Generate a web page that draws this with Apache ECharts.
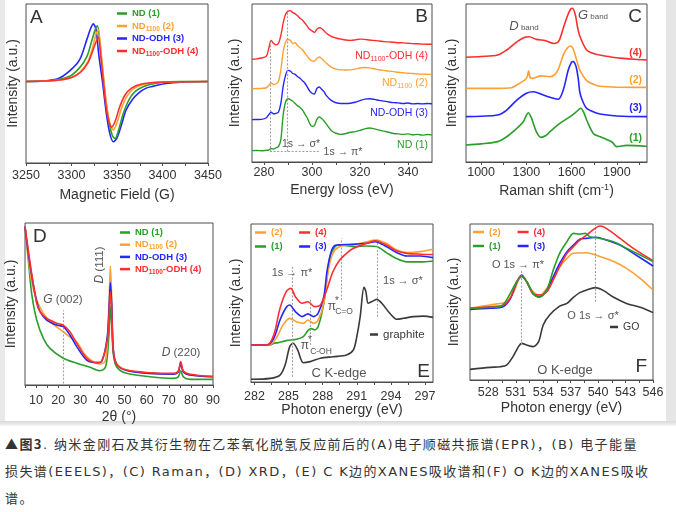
<!DOCTYPE html>
<html><head><meta charset="utf-8">
<script src="https://cdn.jsdelivr.net/npm/echarts@6/dist/echarts.min.js"></script>
<style>
html,body{margin:0;padding:0;background:#fff;}
#c{width:676px;height:426px;}
#cap{position:absolute;left:5px;top:430px;font-family:"DejaVu Sans","Noto Sans CJK SC",sans-serif;font-size:13px;letter-spacing:1.4px;line-height:27px;color:#333;white-space:nowrap;}
#cap b{font-family:"Noto Sans CJK SC",sans-serif;}
</style>
</head><body>
<div id="c"></div>
<div id="cap"><b>▲图3</b>. 纳米金刚石及其衍生物在乙苯氧化脱氢反应前后的(A)电子顺磁共振谱(EPR)，(B) 电子能量<br>损失谱(EEELS)，(C) Raman，(D) XRD，(E) C K边的XANES吸收谱和(F) O K边的XANES吸收<br>谱。</div>
<script>
// ---------- Panel A : EPR ----------
const A_LABELS = [3250, 3300, 3350, 3400, 3450];
const A_TICKS = [3250, 3275, 3300, 3325, 3350, 3375, 3400, 3425, 3450];
const A_ND1 = [[3250,0],[3280,0.02],[3298,0.08],[3309,0.21],[3317,0.38],[3322,0.6],[3326,0.78],[3328.5,0.84],[3331,0.6],[3334,0.2],[3337,-0.2],[3341,-0.6],[3345,-0.82],[3348,-0.86],[3352,-0.72],[3357,-0.48],[3363,-0.28],[3370,-0.15],[3380,-0.07],[3395,-0.02],[3420,0],[3450,0]];
const A_ND1100 = [[3250,0],[3285,0.02],[3300,0.06],[3310,0.15],[3318,0.3],[3323,0.5],[3327,0.72],[3329.5,0.78],[3332,0.5],[3335,0.1],[3338,-0.3],[3342,-0.62],[3346,-0.73],[3350,-0.62],[3355,-0.4],[3361,-0.22],[3368,-0.11],[3378,-0.05],[3395,-0.01],[3450,0]];
const A_NDODH = [[3250,0],[3270,0.01],[3285,0.04],[3298,0.16],[3309,0.33],[3317,0.64],[3321,0.8],[3324,0.87],[3327,0.78],[3330,0.4],[3334,0],[3338,-0.45],[3342,-0.78],[3346,-0.91],[3350,-0.85],[3355,-0.65],[3360,-0.43],[3367,-0.27],[3374,-0.17],[3382,-0.1],[3390,-0.07],[3404,-0.03],[3420,-0.01],[3450,0]];
const A_ND1100ODH = [[3250,0],[3285,0.02],[3300,0.06],[3310,0.14],[3318,0.28],[3323,0.45],[3327,0.6],[3329.5,0.67],[3332,0.4],[3335,0],[3338,-0.38],[3341,-0.6],[3344,-0.69],[3348,-0.6],[3353,-0.38],[3359,-0.2],[3366,-0.1],[3376,-0.04],[3395,-0.01],[3450,0]];

// ---------- Panel B : EELS ----------
const B_LABELS = [280, 300, 320, 340];
const B_TICKS = [280, 290, 300, 310, 320, 330, 340];
const B_X = [275,277,279,281,282,283,284,285,286,287,288,289,290,291,292,293,294,295,296,297,298,299,300,301,302,303,304,305,306,308,310,312,314,316,318,320,322,324,326,328,330,332,334,336,338,340,342,344,346,348,350];
const B_ND1 = [7.2,7.3,7.1,7.4,7.6,8.5,8.2,9,9.8,14,30,38,40,39.5,38.5,37,35.5,34.5,33,30.5,28,24.5,22.5,23,27,28.5,27.5,26,24,20,18.2,17.5,18,18.8,19.2,20,21,21.5,21,20.2,19.5,18.8,18,17.8,17.5,17.8,17.2,17.5,17,17.4,17.2];
const B_NDODH = [26.8,26.9,27,28,30,31.5,30.5,30.8,31.5,37,48,55,58,57.5,56,55.5,54,53,51.5,50,47.5,45,43.5,43,46.5,47.5,46,44.5,42,39,37.5,37,37,37.2,37.8,38.8,39.8,40,39.6,39,38.5,38,37.6,37.4,37,37.3,36.8,37,36.8,37,36.9];
const B_ND1100 = [46.3,46.5,46.6,47,48.5,50,49,49.5,51,58,70,76,77.5,77,75,75.5,73.5,72.5,71,69,67,65,64,63.8,65.5,66.5,65.5,64,62.5,60,58.8,58.3,58.2,58.3,58.8,59.5,59.8,59.6,59,58.4,58,57.5,57.2,56.8,56.5,56.2,56,55.8,55.6,55.5,55.4];
const B_ND1100ODH = [65,65.3,65.8,67,72,77,75,74.2,75,80,88,93.5,95.5,95.8,94.5,93.8,92.5,91,89.8,88,86,84,83,82,84,85,84.5,83,81.5,79.5,78.5,77.8,77.2,77,77.3,77.8,77.6,77.2,76.9,76.6,76.2,76,75.8,75.5,75.4,75.2,74.9,74.8,74.6,74.5,74.5];
const B_GUIDES = [[[282.5,6.6],[282.5,76]],[[289.5,6.6],[289.5,95]],[[282.5,6.6],[303.5,6.6]]];

// ---------- Panel C : Raman ----------
const C_LABELS = [1000, 1300, 1600, 1900];
const C_TICKS = [1000, 1150, 1300, 1450, 1600, 1750, 1900, 2050];
const C_ND1 = [[900,10.8],[1000,11.5],[1110,12.9],[1170,16],[1237,21.3],[1280,25.5],[1296,28.7],[1313,31.2],[1335,27.6],[1366,19.2],[1397,15.6],[1430,16.8],[1457,19.2],[1522,24.5],[1590,28.7],[1633,31.9],[1660,34],[1680,31.5],[1700,26.6],[1744,18.1],[1790,16],[1832,14.3],[1870,12.5],[1899,9.7],[1965,10.5],[2100,10]];
const C_ND1100 = [[900,46.6],[1100,46.6],[1200,47],[1236,48.7],[1291,51.9],[1306,54],[1315,57.8],[1325,53.5],[1345,53],[1366,53.6],[1391,54.5],[1457,54],[1490,55.5],[1512,58.8],[1548,68.4],[1575,72.5],[1594,73.4],[1611,71.5],[1635,64],[1656,57.8],[1700,51.5],[1750,49],[1788,47.9],[1900,47.3],[2100,47.2]];
const C_NDODH = [[900,28.7],[1000,29],[1110,29.7],[1170,32.9],[1237,39.2],[1300,43.5],[1346,44.5],[1413,42.4],[1479,40.3],[1512,39.7],[1545,45.6],[1578,58.2],[1600,63.2],[1610,63.5],[1630,60.3],[1645,52],[1656,43.5],[1680,37],[1700,34],[1750,31.5],[1788,30.4],[1900,29.1],[2100,28.7]];
const C_ND1100ODH = [[900,66.3],[1000,66.8],[1110,67.7],[1170,70.9],[1237,76],[1290,79],[1318,79.3],[1366,77.6],[1428,76.8],[1483,75],[1515,76.5],[1548,85.7],[1575,93],[1595,97],[1606,97.3],[1625,93.1],[1640,85],[1656,79.3],[1700,70.9],[1750,68.5],[1788,67.7],[1860,66.5],[1942,65.6],[2020,65],[2100,64.6]];

// ---------- Panel D : XRD ----------
const D_LABELS = [10, 20, 30, 40, 50, 60, 70, 80, 90];
const D_TICKS = [5,10,15,20,25,30,35,40,45,50,55,60,65,70,75,80,85,90];
const D_ND1 = [[5,97.7],[6.5,77.2],[8,56.6],[10.3,40.1],[13.3,28.8],[16.3,22.6],[22.3,16.5],[28.4,13.4],[34.4,10.9],[38.9,8.8],[41.2,10.5],[42.2,17.5],[43.1,34],[43.6,48.4],[44.2,38.1],[44.9,19.5],[46.4,11.3],[50.9,7.2],[61.5,5.1],[72,4.1],[74.3,5],[75.4,8.8],[76.6,5],[79.6,3.5],[90,3.5]];
const D_ND1100 = [[5,97.7],[6.5,79.2],[8,63.8],[10.3,52.5],[13.3,44.2],[16.3,39.1],[22.3,32.9],[25.3,29.5],[28.4,26.7],[31.4,20],[34.4,15.8],[38.9,12.9],[41.2,14.5],[42.2,25.7],[43.1,54.5],[43.6,73.5],[44.2,54],[44.9,23.6],[46.4,13.3],[50.9,9.2],[61.5,7.2],[72,6.7],[74.3,8.2],[75.4,13.8],[76.6,8.2],[79.6,6.2],[90,5.1]];
const D_NDODH = [[5,97.7],[6.5,81.3],[8,67.9],[10.3,51.4],[11.8,45.3],[14.8,40.1],[19.3,37],[22.3,36],[25.3,30.9],[28.4,23.7],[32.9,15.4],[37.4,13.8],[39.7,14.5],[42.2,29.8],[43.1,50.4],[43.6,63.2],[44.2,50],[44.9,21.6],[46.4,12.9],[50.9,9],[61.5,7.2],[72,6.7],[74.3,8],[75.4,13.5],[76.6,8],[79.6,6.2],[90,5.1]];
const D_ND1100ODH = [[5,97.7],[6.5,83.3],[8,68.9],[10.3,50.4],[11.8,45.3],[14.8,41.2],[19.3,38.1],[22.3,37],[25.3,32.9],[28.4,25.7],[32.9,16.5],[37.4,13.8],[39.7,14.8],[42.2,27.8],[43.1,46.3],[43.6,57.6],[44.2,46],[44.9,21.6],[46.4,12.9],[50.9,9.2],[61.5,7.6],[72,7.2],[74.3,8.6],[75.4,14.4],[76.6,8.6],[79.6,6.6],[90,5.3]];
const D_GUIDES = [[[22.3,1],[22.3,46]]];

// ---------- Panel E : C K-edge XANES ----------
const E_LABELS = [282, 285, 288, 291, 294, 297];
const E_TICKS = [282,283.5,285,286.5,288,289.5,291,292.5,294,295.5,297];
const E_ND1 = [[281.7,23.4],[283.4,23.4],[283.7,24.5],[284.1,24.9],[284.8,26.2],[285.7,27],[286.3,28.7],[286.7,32.5],[287.0,33.8],[287.3,33],[287.6,35],[288.1,49.8],[288.4,66.7],[288.65,79.3],[289.1,85.7],[289.5,86.7],[290.7,85.7],[291.9,86.1],[292.75,85.7],[293.6,81.9],[294.5,78.1],[295.4,76],[296.6,76],[297.7,76.6]];
const E_ND1100 = [[281.7,23.4],[283.4,23.8],[284.0,28.7],[284.5,36],[285.1,40.3],[285.7,38.2],[286.3,37.1],[286.7,39.2],[287.2,37.1],[287.6,39.2],[288.1,49.8],[288.5,70.9],[288.9,81.4],[289.5,85.7],[290.7,87.1],[291.9,88.8],[292.6,89.9],[293.6,87.8],[294.5,83.5],[295.4,81.9],[296.6,82.5],[297.7,84]];
const E_NDODH = [[281.7,23.4],[283.1,23.4],[283.7,27.6],[284.25,39.2],[284.8,47.3],[285.1,48.7],[285.6,44.5],[286.2,41.4],[286.7,43.1],[287.2,41.4],[287.6,43.5],[288.1,54],[288.4,70.9],[288.8,83.5],[289.2,86.7],[290.7,87.1],[291.9,87.8],[292.6,88.8],[293.6,85.7],[294.5,81.9],[295.4,79.7],[296.6,79.7],[297.7,78.7]];
const E_ND1100ODH = [[281.7,23.4],[283.1,23.4],[283.7,29.7],[284.25,46.6],[284.8,57.2],[285.2,59.3],[285.6,54],[286.2,49.8],[286.7,50.8],[287.3,47.7],[287.8,48.7],[288.35,58.2],[288.9,69.8],[289.5,77.2],[290.1,81.4],[290.7,84.6],[291.9,87.8],[292.6,89.4],[293.6,86.7],[294.5,83],[295.4,81.4],[296.6,80.9],[297.7,80.7]];
const E_GRAPHITE = [[281.7,1.7],[283.4,2.3],[284.25,4.4],[284.7,10.7],[285.1,22.4],[285.4,24.5],[285.8,20.3],[286.3,12.2],[286.9,12.9],[287.8,15],[288.9,16],[290.1,17.1],[290.7,20.3],[291.0,28.7],[291.3,41.4],[291.63,59.9],[291.8,57.2],[292.0,49.8],[292.3,50.8],[292.75,52.3],[293.2,49.8],[293.9,43.5],[294.5,39.7],[295.1,40.3],[296.0,41.4],[296.85,41.7],[297.7,40.9]];
const E_GUIDES = [[[285.3,3.4],[285.3,73]],[[286.9,23.4],[286.9,52.3]],[[289.6,51.9],[289.6,91]],[[292.8,41.3],[292.8,91]]];

// ---------- Panel F : O K-edge XANES ----------
const F_LABELS = [528, 531, 534, 537, 540, 543, 546];
const F_TICKS = [528,529.5,531,532.5,534,535.5,537,538.5,540,541.5,543,544.5,546];
const F_ND1 = [[526,46],[528.2,46.6],[529.3,47],[529.8,49.6],[530.4,55.5],[531.1,63],[531.65,66.2],[532.2,63],[532.9,55.6],[533.6,53],[534.4,57.7],[535.1,70.5],[535.8,81.2],[536.6,88.7],[537.3,94],[538.0,93.5],[538.6,94],[539.1,91.9],[540.2,90.8],[541.7,88.7],[543.1,84.4],[544.6,80.1],[546,75.9]];
const F_ND1100 = [[526,46],[528.2,48.1],[529.3,49],[530.0,50],[530.7,55.5],[531.65,66.7],[532.2,63],[532.9,56.6],[533.65,54.5],[534.4,58.8],[535.1,65.2],[535.8,72.6],[536.6,78],[537.3,81.2],[538.75,81.6],[540.2,79.1],[541.7,75.9],[543.1,71.6],[544.6,65.2],[546,57.7]];
const F_NDODH = [[526,45.3],[528.2,46],[529.6,47],[530.4,52],[531.1,62.5],[531.65,67.3],[532.2,63],[532.9,55.2],[533.6,53.4],[534.4,57.7],[535.1,66.2],[535.8,74.8],[536.6,82.3],[537.3,86.5],[538.0,90.2],[538.75,90.8],[539.8,91.5],[540.9,89.7],[542.4,86.5],[543.85,81.2],[546,73.1]];
const F_ND1100ODH = [[526,46],[528.2,47],[529.6,48],[530.4,52.5],[531.1,63],[531.65,66.7],[532.2,63],[532.9,55.2],[533.65,54.5],[534.4,56.6],[535.1,64.1],[535.8,72.6],[536.6,81.2],[537.3,85.5],[538.0,89.7],[538.75,92.9],[539.66,97.2],[540.2,98.7],[540.9,97.2],[542.4,90.8],[543.85,84.4],[546,76.5]];
const F_GO = [[526,6.8],[528.2,8.1],[529.3,8.5],[530.0,9.6],[530.7,15],[531.3,21.4],[531.65,23.5],[532.2,22.4],[532.9,21.4],[533.5,24.6],[534.0,35.3],[534.7,41.7],[535.8,47.4],[536.6,49.1],[537.3,53],[538.0,56],[538.75,57.7],[539.7,59.2],[540.6,57.3],[541.7,53],[543.1,49.1],[544.6,46.6],[546,43.2]];
const F_GUIDES = [[[531.65,22.4],[531.65,70.5]],[[539.7,50.2],[539.7,99.4]]];

// ---------- style ----------
const FONT = '"Liberation Sans", Arial, Helvetica, sans-serif';
const GREEN = '#2a9e2a', ORANGE = '#ffa033', BLUE = '#2525ff', RED = '#ff2d2d', DARK = '#3a3a3a';
const AXC = '#4d4d4d', TXT = '#333', ANN = '#555', GUIDE_C = '#a0a0a0';

const chart = echarts.init(document.getElementById('c'), null, {renderer: 'canvas'});

function xAx(gi, min, max, labels, ticks, name, margin, gap, rich) {
  return {
    type: 'value', gridIndex: gi, min: min, max: max,
    axisLine: {show: true, onZero: false, lineStyle: {color: AXC, width: 1}},
    axisTick: {show: true, customValues: ticks, length: 3, inside: false, lineStyle: {color: AXC, width: 1}},
    axisLabel: {customValues: labels, margin: margin, color: TXT, fontSize: 12.5, fontFamily: FONT, formatter: v => String(v)},
    splitLine: {show: false},
    name: name, nameLocation: 'middle', nameGap: gap, nameMoveOverlap: false,
    nameTextStyle: {color: TXT, fontSize: 14, fontFamily: FONT, rich: rich}
  };
}
function yAx(gi, min, max, gap) {
  return {
    type: 'value', gridIndex: gi, min: min, max: max,
    axisLine: {show: false}, axisTick: {show: false}, axisLabel: {show: false}, splitLine: {show: false},
    name: 'Intensity (a.u.)', nameLocation: 'middle', nameGap: gap, nameRotate: 90, nameMoveOverlap: false,
    nameTextStyle: {color: TXT, fontSize: 14, fontFamily: FONT}
  };
}
function ln(idx, name, data, color, z, guides, width) {
  const s = {
    type: 'line', name: name, xAxisIndex: idx, yAxisIndex: idx, data: data,
    showSymbol: false, symbol: 'none', smooth: 0.3, z: z,
    lineStyle: {color: color, width: width || 1.6}, itemStyle: {color: color},
    emphasis: {disabled: true}, silent: true, animation: false
  };
  if (guides) {
    s.markLine = {
      silent: true, symbol: ['none', 'none'], animation: false, label: {show: false},
      emphasis: {disabled: true},
      lineStyle: {color: GUIDE_C, width: 1.1, type: [2, 1.6]},
      data: guides.map(g => [{coord: g[0]}, {coord: g[1]}])
    };
  }
  return s;
}
const zip = (xs, ys) => xs.map((x, i) => [x, ys[i]]);

// legend rich styles
const KEY = {'ND (1)':'g','ND1100 (2)':'o','ND-ODH (3)':'b','ND1100-ODH (4)':'r','(1)':'g','(2)':'o','(3)':'b','(4)':'r'};
const KCOL = {g: GREEN, o: ORANGE, b: BLUE, r: RED};
const RICH = {};
Object.keys(KCOL).forEach(k => {
  RICH[k + 'b'] = {color: KCOL[k], fontFamily: FONT, fontSize: 9.5, fontWeight: 'bold', lineHeight: 13};
  RICH[k + 's'] = {color: KCOL[k], fontFamily: FONT, fontSize: 6.5, fontWeight: 'bold', lineHeight: 7, padding: [6, 0, 0, 0]};
});
function legFmt(name) {
  const k = KEY[name];
  return name.split('1100').map(p => p ? '{' + k + 'b|' + p + '}' : '').join('{' + k + 's|1100}');
}
function leg(data, left, top, orient, gap, iw) {
  return {
    data: data, left: left, top: top, orient: orient, itemGap: gap, itemWidth: iw || 10, itemHeight: 2.5,
    icon: 'rect', selectedMode: false, padding: 0, formatter: legFmt,
    itemStyle: {borderWidth: 0}, lineStyle: {width: 0},
    textStyle: {fontFamily: FONT, fontSize: 9.5, fontWeight: 'bold', rich: RICH}
  };
}
function legPlain(name, left, top, fs) {
  return {
    data: [name], left: left, top: top, itemWidth: 8, itemHeight: 2.5, icon: 'rect', selectedMode: false, padding: 0,
    itemStyle: {borderWidth: 0},
    textStyle: {fontFamily: FONT, fontSize: fs, color: DARK}
  };
}

// text helper for annotations
function T(x, y, text, o) {
  o = o || {};
  const al = o.align || 'center';
  const st = {text: text, font: o.font || ('11px ' + FONT), fill: o.fill || ANN,
    align: al, textAlign: al, verticalAlign: 'middle', textVerticalAlign: 'middle'};
  if (o.rich) st.rich = o.rich;
  return {type: 'text', x: x, y: y, rotation: o.rot || 0, silent: true, z: 100, style: st};
}
function subRich(col, big, small, bold) {
  const w = bold ? 'bold ' : '';
  return {
    b: {font: w + big + 'px ' + FONT, fill: col, color: col, lineHeight: big + 3},
    s: {font: w + small + 'px ' + FONT, fill: col, color: col, lineHeight: small, padding: [Math.round(big * 0.55), 0, 0, 0]}
  };
}
const LET = '19px ' + FONT;
const ITAL = {i: {font: 'italic 12px ' + FONT, fill: ANN}, n: {font: '11.5px ' + FONT, fill: ANN}, t: {font: '8px ' + FONT, fill: ANN, padding: [3, 0, 0, 0]}, I: {font: 'italic 13px ' + FONT, fill: ANN}};

const graphics = [
  {type: 'rect', shape: {x: 0, y: 0, width: 5, height: 423}, style: {fill: '#e9e9e9'}, silent: true, z: -10},
  {type: 'rect', shape: {x: 666, y: 0, width: 10, height: 423}, style: {fill: '#e6e6e6'}, silent: true, z: -10},
  {type: 'rect', shape: {x: 0, y: 421, width: 676, height: 5}, silent: true, z: -10,
    style: {fill: new echarts.graphic.LinearGradient(0, 0, 0, 1, [{offset: 0, color: '#d8d8d8'}, {offset: 1, color: '#f6f6f6'}])}},
  // panel letters
  T(30, 18, 'A', {font: LET, fill: TXT, align: 'left'}),
  T(428, 17, 'B', {font: LET, fill: TXT, align: 'right'}),
  T(642, 17, 'C', {font: LET, fill: TXT, align: 'right'}),
  T(33, 237, 'D', {font: LET, fill: TXT, align: 'left'}),
  T(430, 372, 'E', {font: LET, fill: TXT, align: 'right'}),
  T(647, 367, 'F', {font: LET, fill: TXT, align: 'right'}),
  // B labels
  T(428, 56, '{b|ND}{s|1100}{b|-ODH (4)}', {align: 'right', rich: subRich(RED, 10.5, 7)}),
  T(428, 83, '{b|ND}{s|1100}{b| (2)}', {align: 'right', rich: subRich(ORANGE, 10.5, 7)}),
  T(428, 113, 'ND-ODH (3)', {align: 'right', font: '10.5px ' + FONT, fill: BLUE}),
  T(428, 145, 'ND (1)', {align: 'right', font: '10.5px ' + FONT, fill: GREEN}),
  T(301, 144, '1s → σ*', {font: '10.5px ' + FONT}),
  T(343, 152, '1s → π*', {font: '10.5px ' + FONT}),
  // C labels
  T(524, 26, '{I|D}{t| band}', {rich: ITAL}),
  T(593, 15, '{I|G}{t| band}', {rich: ITAL}),
  T(642, 53, '(4)', {align: 'right', font: 'bold 10.5px ' + FONT, fill: RED}),
  T(642, 80, '(2)', {align: 'right', font: 'bold 10.5px ' + FONT, fill: ORANGE}),
  T(642, 108, '(3)', {align: 'right', font: 'bold 10.5px ' + FONT, fill: BLUE}),
  T(642, 138, '(1)', {align: 'right', font: 'bold 10.5px ' + FONT, fill: GREEN}),
  // D labels
  T(100, 265, '{i|D}{n| (111)}', {rich: ITAL, rot: Math.PI / 2}),
  T(63, 300, '{i|G}{n| (002)}', {rich: ITAL}),
  T(181, 353, '{i|D}{n| (220)}', {rich: ITAL}),
  // E labels
  T(292, 273, '1s → π*', {font: '11px ' + FONT}),
  T(403, 281, '1s → σ*', {font: '11px ' + FONT}),
  T(332, 307, 'π', {font: '12px ' + FONT}),
  T(337, 301, '*', {font: '10px ' + FONT}),
  T(344, 312, 'C=O', {font: '8.5px ' + FONT}),
  T(305, 346, 'π', {font: '12px ' + FONT}),
  T(310, 340, '*', {font: '10px ' + FONT}),
  T(321, 352, 'C-OH', {font: '8.5px ' + FONT}),
  T(339, 373, 'C K-edge', {font: '13px ' + FONT}),
  // F labels
  T(518, 265, 'O 1s → π*', {font: '11px ' + FONT}),
  T(593, 316, 'O 1s → σ*', {font: '11px ' + FONT}),
  T(565, 370, 'O K-edge', {font: '13px ' + FONT})
];

const option = {
  animation: false,
  backgroundColor: '#fff',
  grid: [
    {left: 26, top: 4, width: 182, height: 159},
    {left: 252, top: 4, width: 180, height: 158},
    {left: 466, top: 4, width: 181, height: 158},
    {left: 25, top: 223, width: 188, height: 162},
    {left: 251, top: 224, width: 182, height: 158},
    {left: 470, top: 224, width: 183, height: 156}
  ].map(g => Object.assign(g, {show: true, borderColor: AXC, borderWidth: 1, backgroundColor: 'transparent', containLabel: false, outerBoundsMode: 'none'})),
  xAxis: [
    xAx(0, 3250, 3450, A_LABELS, A_TICKS, 'Magnetic Field (G)', 6, 25),
    xAx(1, 275, 350, B_LABELS, B_TICKS, 'Energy loss (eV)', 4, 21),
    xAx(2, 900, 2100, C_LABELS, C_TICKS, '{n|Raman shift (cm}{u|-1}{n|)}', 4, 21,
      {n: {fontSize: 14, fontFamily: FONT, color: TXT}, u: {fontSize: 9, fontFamily: FONT, color: TXT, padding: [0, 0, 7, 0]}}),
    xAx(3, 5, 90, D_LABELS, D_TICKS, '2θ (°)', 9, 25),
    xAx(4, 281.7, 297.7, E_LABELS, E_TICKS, 'Photon energy (eV)', 8, 21),
    xAx(5, 526, 546, F_LABELS, F_TICKS, 'Photon energy (eV)', 6, 21)
  ],
  yAxis: [
    yAx(0, -1.23, 1.17, 6),
    yAx(1, 0, 100, 10),
    yAx(2, 0, 100, 6.5),
    yAx(3, 0, 100, 7),
    yAx(4, 0, 100, 8),
    yAx(5, 0, 100, 8.5)
  ],
  legend: [
    leg(['ND (1)', 'ND1100 (2)', 'ND-ODH (3)', 'ND1100-ODH (4)'], 117, 8.5, 'vertical', 1),
    leg(['ND (1)', 'ND1100 (2)', 'ND-ODH (3)', 'ND1100-ODH (4)'], 120, 227.5, 'vertical', 0.7),
    leg(['(2)', '(4)'], 255, 227.5, 'horizontal', 16.5, 11),
    leg(['(1)', '(3)'], 255, 241.5, 'horizontal', 16.5, 11),
    leg(['(2)', '(4)'], 473, 227, 'horizontal', 17, 11),
    leg(['(1)', '(3)'], 473, 241, 'horizontal', 17, 11),
    legPlain('graphite', 370, 328.5, 11.5),
    legPlain('GO', 610, 321.5, 10.5)
  ],
  series: [
    // A
    ln(0, 'ND-ODH (3)', A_NDODH, BLUE, 2),
    ln(0, 'ND (1)', A_ND1, GREEN, 3),
    ln(0, 'ND1100 (2)', A_ND1100, ORANGE, 4),
    ln(0, 'ND1100-ODH (4)', A_ND1100ODH, RED, 5),
    // B
    ln(1, 'ND (1)', zip(B_X, B_ND1), GREEN, 3, B_GUIDES, 1.4),
    ln(1, 'ND-ODH (3)', zip(B_X, B_NDODH), BLUE, 3, null, 1.4),
    ln(1, 'ND1100 (2)', zip(B_X, B_ND1100), ORANGE, 3, null, 1.4),
    ln(1, 'ND1100-ODH (4)', zip(B_X, B_ND1100ODH), RED, 3, null, 1.4),
    // C
    ln(2, 'ND (1)', C_ND1, GREEN, 3),
    ln(2, 'ND-ODH (3)', C_NDODH, BLUE, 3),
    ln(2, 'ND1100 (2)', C_ND1100, ORANGE, 3),
    ln(2, 'ND1100-ODH (4)', C_ND1100ODH, RED, 3),
    // D
    ln(3, 'ND (1)', D_ND1, GREEN, 2, D_GUIDES),
    ln(3, 'ND1100 (2)', D_ND1100, ORANGE, 3),
    ln(3, 'ND-ODH (3)', D_NDODH, BLUE, 4),
    ln(3, 'ND1100-ODH (4)', D_ND1100ODH, RED, 5),
    // E
    ln(4, 'graphite', E_GRAPHITE, DARK, 2, E_GUIDES),
    ln(4, '(1)', E_ND1, GREEN, 3),
    ln(4, '(2)', E_ND1100, ORANGE, 4),
    ln(4, '(3)', E_NDODH, BLUE, 5),
    ln(4, '(4)', E_ND1100ODH, RED, 6),
    // F
    ln(5, 'GO', F_GO, DARK, 2, F_GUIDES),
    ln(5, '(2)', F_ND1100, ORANGE, 3),
    ln(5, '(3)', F_NDODH, BLUE, 4),
    ln(5, '(4)', F_ND1100ODH, RED, 5),
    ln(5, '(1)', F_ND1, GREEN, 6)
  ],
  graphic: graphics
};
chart.setOption(option);
</script>
</body></html>
